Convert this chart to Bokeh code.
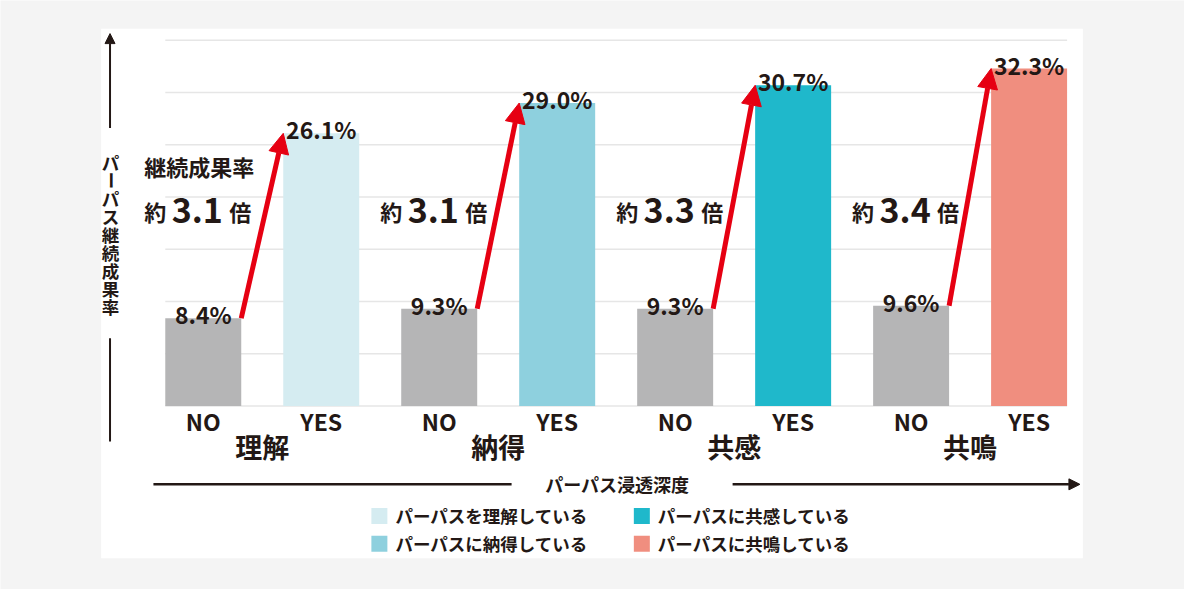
from bokeh.plotting import figure
from bokeh.models import Range1d, Arrow, NormalHead, ColumnDataSource
from bokeh.core.properties import value
from bokeh.embed import file_html
from bokeh.resources import INLINE

# ---------------- data ----------------
categories = ["理解", "納得", "共感", "共鳴"]
no_values = [8.4, 9.3, 9.3, 9.6]
yes_values = [26.1, 29.0, 30.7, 32.3]
ratios = ["3.1", "3.1", "3.3", "3.4"]
bar_labels = ["NO", "YES"]
grid_ticks = [0, 5, 10, 15, 20, 25, 30, 35]
legend_labels = ["パーパスを理解している", "パーパスに納得している",
                 "パーパスに共感している", "パーパスに共鳴している"]
y_title = "パーパス継続成果率"
x_title = "パーパス浸透深度"
ratio_title = "継続成果率"

# ---------------- styles ----------------
FONT = value("Noto Sans CJK JP")
INK = "#231815"
RED = "#e60012"
GRAY = "#b5b5b6"
YES_COLORS = ["#d5ecf1", "#8ed0de", "#1fb8cb", "#f08e7f"]
BG = "#f4f4f4"
GRID = "#e6e6e6"

W, H = 1184, 589
SLOT_PX = 119.57
PCT_PX = 10.73
X0 = 205.5      # reference x of slot 0 centre
BASE = 416.5    # reference y of value 0
BAR_W = 0.644


def fx(rx):
    return (rx - X0) / SLOT_PX


def fy(ry):
    return (BASE - ry) / PCT_PX


p = figure(width=W, height=H, output_backend="svg", toolbar_location=None,
           x_range=Range1d(fx(0), fx(1200)), y_range=Range1d(fy(605), fy(0)),
           min_border=0, background_fill_color=BG, border_fill_color=BG,
           outline_line_color=None)
p.axis.visible = False
p.grid.visible = False

# white panel
p.quad(left=[fx(102)], right=[fx(1097)], top=[fy(29)], bottom=[fy(573)],
       fill_color="white", line_color=None)

# gridlines
n = len(categories)
x_lo = -BAR_W / 2
x_hi = 2 * n - 1 + BAR_W / 2
p.segment(x0=[x_lo] * len(grid_ticks), x1=[x_hi] * len(grid_ticks),
          y0=grid_ticks, y1=grid_ticks, line_color=GRID, line_width=1.5)

# bars
no_x = [2 * i for i in range(n)]
yes_x = [2 * i + 1 for i in range(n)]
p.vbar(x=no_x, top=no_values, width=BAR_W, bottom=0, fill_color=GRAY, line_color=None)
p.vbar(x=yes_x, top=yes_values, width=BAR_W, bottom=0, fill_color=YES_COLORS, line_color=None)

# value labels
all_x = no_x + yes_x
all_v = no_values + yes_values
p.text(x=all_x, y=all_v, text=[f"{v:.1f}%" for v in all_v], text_align="center",
       text_baseline="alphabetic", y_offset=-4, text_font=FONT, text_font_style="bold",
       text_font_size="23px", text_color=INK)

# NO / YES labels
p.text(x=all_x, y=[fy(432)] * len(all_x),
       text=[bar_labels[0]] * n + [bar_labels[1]] * n, text_align="center",
       text_baseline="middle", text_font=FONT, text_font_style="bold",
       text_font_size="23px", text_color=INK)

# category labels
p.text(x=[2 * i + 0.5 for i in range(n)], y=[fy(458)] * n, text=categories,
       text_align="center", text_baseline="middle", text_font=FONT,
       text_font_style="bold", text_font_size="27px", text_color=INK)

# red arrows
arrow_src = ColumnDataSource(dict(
    x0=[x + BAR_W / 2 for x in no_x], y0=no_values,
    x1=[x - BAR_W / 2 for x in yes_x], y1=yes_values))
p.add_layout(Arrow(end=NormalHead(size=20, fill_color=RED, line_color=RED, line_width=1),
                   x_start="x0", y_start="y0", x_end="x1", y_end="y1",
                   source=arrow_src, line_color=RED, line_width=5))

# ratio annotations
p.text(x=[no_x[0]], y=[fy(170)], text=[ratio_title], x_offset=-59,
       text_align="left", text_baseline="middle", text_font=FONT,
       text_font_style="bold", text_font_size="22px", text_color=INK)
p.text(x=no_x, y=[fy(216)] * n, text=["約"] * n, x_offset=-59,
       text_align="left", text_baseline="alphabetic", text_font=FONT,
       text_font_style="bold", text_font_size="22px", text_color=INK)
p.text(x=no_x, y=[fy(216)] * n, text=ratios, x_offset=-6,
       text_align="center", text_baseline="alphabetic", text_font=FONT,
       text_font_style="bold", text_font_size="34px", text_color=INK)
p.text(x=no_x, y=[fy(216)] * n, text=["倍"] * n, x_offset=26,
       text_align="left", text_baseline="alphabetic", text_font=FONT,
       text_font_style="bold", text_font_size="22px", text_color=INK)

# vertical axis (arrow + vertical title)
p.add_layout(Arrow(end=NormalHead(size=10, fill_color=INK, line_color=INK, line_width=1),
                   x_start=fx(111), y_start=fy(131), x_end=fx(111), y_end=fy(34),
                   line_color=INK, line_width=2))
p.segment(x0=[fx(111)], x1=[fx(111)], y0=[fy(347)], y1=[fy(453)],
          line_color=INK, line_width=2)
chars = list(y_title)
ys = [fy(166 + 18.6 * i) for i in range(len(chars))]
angles = [1.5708 if c == "ー" else 0 for c in chars]
p.text(x=[fx(111.5)] * len(chars), y=ys, text=chars, angle=angles,
       text_align="center", text_baseline="middle", text_font=FONT,
       text_font_style="bold", text_font_size="17.5px", text_color=INK)

# horizontal axis (line + title + arrow)
p.segment(x0=[fx(155)], x1=[fx(518)], y0=[fy(497)], y1=[fy(497)],
          line_color=INK, line_width=2.5)
p.add_layout(Arrow(end=NormalHead(size=11, fill_color=INK, line_color=INK, line_width=1),
                   x_start=fx(742), y_start=fy(497), x_end=fx(1094), y_end=fy(497),
                   line_color=INK, line_width=2.5))
p.text(x=[fx(625)], y=[fy(497)], text=[x_title], text_align="center",
       text_baseline="middle", text_font=FONT, text_font_style="bold",
       text_font_size="18px", text_color=INK)

# legend
lx = [fx(384), fx(384), fx(650), fx(650)]
ly = [fy(529.5), fy(558), fy(529.5), fy(558)]
p.scatter(x=lx, y=ly, marker="square", size=16, fill_color=YES_COLORS, line_color=None)
p.text(x=lx, y=ly, text=legend_labels, x_offset=16, text_align="left",
       text_baseline="middle", text_font=FONT, text_font_style="bold",
       text_font_size="17.5px", text_color=INK)

open("out.html", "w").write(file_html(p, INLINE))
